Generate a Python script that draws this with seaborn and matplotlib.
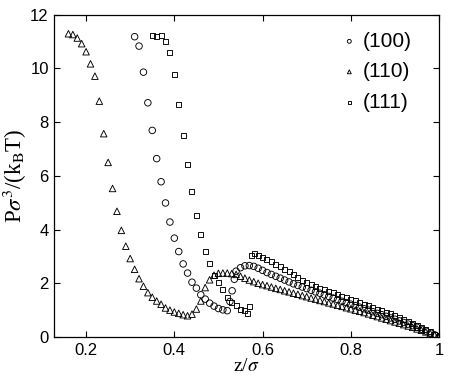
import numpy as np
import pandas as pd
import matplotlib
matplotlib.use("Agg")
import matplotlib.pyplot as plt
import seaborn as sns

# (100) face - circles
z_100 = [0.31, 0.32, 0.33, 0.34, 0.35, 0.36, 0.37, 0.38, 0.39, 0.40,
         0.41, 0.42, 0.43, 0.44, 0.45, 0.46, 0.47, 0.48, 0.49, 0.50,
         0.51, 0.52, 0.526, 0.531, 0.536, 0.54, 0.55, 0.56, 0.57, 0.58,
         0.59, 0.60, 0.61, 0.62, 0.63, 0.64, 0.65, 0.66, 0.67, 0.68,
         0.69, 0.70, 0.71, 0.72, 0.73, 0.74, 0.75, 0.76, 0.77, 0.78,
         0.79, 0.80, 0.81, 0.82, 0.83, 0.84, 0.85, 0.86, 0.87, 0.88,
         0.89, 0.90, 0.91, 0.92, 0.93, 0.94, 0.95, 0.96, 0.97, 0.98,
         0.99, 1.00]
p_100 = [11.18, 10.83, 9.86, 8.72, 7.69, 6.64, 5.78, 4.99, 4.28, 3.68,
         3.18, 2.72, 2.38, 2.04, 1.82, 1.57, 1.41, 1.26, 1.15, 1.06,
         1.01, 0.98, 1.32, 1.72, 2.15, 2.45, 2.58, 2.65, 2.66, 2.63,
         2.56, 2.48, 2.40, 2.33, 2.26, 2.19, 2.12, 2.05, 1.98, 1.92,
         1.86, 1.80, 1.74, 1.68, 1.63, 1.57, 1.51, 1.45, 1.39, 1.33,
         1.28, 1.22, 1.17, 1.11, 1.05, 1.00, 0.94, 0.88, 0.83, 0.77,
         0.71, 0.66, 0.60, 0.54, 0.48, 0.42, 0.36, 0.29, 0.22, 0.15,
         0.08, 0.01]

# (110) face - triangles
z_110 = [0.16, 0.17, 0.18, 0.19, 0.20, 0.21, 0.22, 0.23, 0.24, 0.25,
         0.26, 0.27, 0.28, 0.29, 0.30, 0.31, 0.32, 0.33, 0.34, 0.35,
         0.36, 0.37, 0.38, 0.39, 0.40, 0.41, 0.42, 0.43, 0.44, 0.45,
         0.46, 0.47, 0.48, 0.49, 0.50, 0.51, 0.52, 0.53, 0.54, 0.55,
         0.56, 0.57, 0.58, 0.59, 0.60, 0.61, 0.62, 0.63, 0.64, 0.65,
         0.66, 0.67, 0.68, 0.69, 0.70, 0.71, 0.72, 0.73, 0.74, 0.75,
         0.76, 0.77, 0.78, 0.79, 0.80, 0.81, 0.82, 0.83, 0.84, 0.85,
         0.86, 0.87, 0.88, 0.89, 0.90, 0.91, 0.92, 0.93, 0.94, 0.95,
         0.96, 0.97, 0.98, 0.99, 1.00]
p_110 = [11.29, 11.26, 11.13, 10.92, 10.62, 10.17, 9.71, 8.78, 7.57, 6.50,
         5.53, 4.68, 3.97, 3.38, 2.92, 2.52, 2.17, 1.89, 1.65, 1.48,
         1.34, 1.22, 1.08, 1.00, 0.93, 0.88, 0.83, 0.79, 0.85, 1.04,
         1.34, 1.84, 2.13, 2.30, 2.37, 2.38, 2.38, 2.36, 2.33, 2.26,
         2.19, 2.12, 2.06, 2.00, 1.95, 1.91, 1.86, 1.81, 1.77, 1.72,
         1.68, 1.63, 1.59, 1.54, 1.50, 1.45, 1.41, 1.36, 1.32, 1.27,
         1.23, 1.18, 1.14, 1.09, 1.05, 1.00, 0.96, 0.91, 0.86, 0.81,
         0.76, 0.71, 0.66, 0.61, 0.56, 0.51, 0.46, 0.41, 0.36, 0.30,
         0.25, 0.19, 0.13, 0.07, 0.00]

# (111) face - squares
z_111 = [0.35, 0.36, 0.37, 0.38, 0.39, 0.40, 0.41, 0.42, 0.43, 0.44,
         0.45, 0.46, 0.47, 0.48, 0.49, 0.50, 0.51, 0.52, 0.53, 0.54,
         0.55, 0.56, 0.565, 0.571, 0.575, 0.582, 0.59, 0.60, 0.61, 0.62,
         0.63, 0.64, 0.65, 0.66, 0.67, 0.68, 0.69, 0.70, 0.71, 0.72,
         0.73, 0.74, 0.75, 0.76, 0.77, 0.78, 0.79, 0.80, 0.81, 0.82,
         0.83, 0.84, 0.85, 0.86, 0.87, 0.88, 0.89, 0.90, 0.91, 0.92,
         0.93, 0.94, 0.95, 0.96, 0.97, 0.98, 0.99, 1.00]
p_111 = [11.24, 11.18, 11.21, 11.00, 10.58, 9.78, 8.67, 7.51, 6.41, 5.40,
         4.53, 3.81, 3.17, 2.72, 2.28, 2.04, 1.75, 1.47, 1.29, 1.16,
         1.03, 0.97, 0.88, 1.13, 3.02, 3.11, 3.04, 2.96, 2.88, 2.80,
         2.71, 2.62, 2.52, 2.42, 2.32, 2.22, 2.12, 2.03, 1.96, 1.89,
         1.82, 1.76, 1.70, 1.64, 1.58, 1.52, 1.46, 1.40, 1.34, 1.28,
         1.22, 1.16, 1.10, 1.04, 0.98, 0.92, 0.86, 0.80, 0.73, 0.66,
         0.59, 0.52, 0.44, 0.36, 0.28, 0.19, 0.10, 0.01]

labels = ["(100)", "(110)", "(111)"]
x_ticks = [0.2, 0.4, 0.6, 0.8, 1.0]
x_ticklabels = ["0.2", "0.4", "0.6", "0.8", "1"]
y_ticks = [0, 2, 4, 6, 8, 10, 12]

sns.set_style("ticks", {"axes.edgecolor": "black", "text.color": "black",
                        "xtick.color": "black", "ytick.color": "black",
                        "axes.labelcolor": "black"})
plt.rcParams["font.family"] = ["Liberation Sans", "DejaVu Sans"]
plt.rcParams["mathtext.fontset"] = "stix"

fig = plt.figure(figsize=(4.5, 3.81), dpi=100)
ax = fig.add_axes([0.1207, 0.1155, 0.855, 0.846])

series = [(z_100, p_100, "o", 22), (z_110, p_110, "^", 22), (z_111, p_111, "s", 13)]
for (zz, pp, mk, size), lab in zip(series, labels):
    sns.scatterplot(x=zz, y=pp, marker=mk, s=size, facecolor="none",
                    edgecolor="black", linewidth=0.65, label=lab, ax=ax)

ax.set_xlim(0.128, 1.0)
ax.set_ylim(0, 12)
ax.set_xticks(x_ticks)
ax.set_xticklabels(x_ticklabels)
ax.set_yticks(y_ticks)
ax.tick_params(direction="in", top=True, right=True, length=4, width=0.8,
               labelsize=12, pad=4)
for sp in ax.spines.values():
    sp.set_linewidth(0.9)

ax.set_xlabel(r"z/$\sigma$", fontsize=14, family="Liberation Serif", labelpad=0)
ax.set_ylabel(r"P$\sigma^3$/(k$_\mathrm{B}$T)", fontsize=16.5,
              family="Liberation Serif", labelpad=1)

ax.legend(loc="upper right", bbox_to_anchor=(0.978, 1.005), frameon=False,
          fontsize=15, markerscale=0.6, handletextpad=0.05,
          labelspacing=0.55, handlelength=1.2)

fig.savefig("out.png", dpi=100)
